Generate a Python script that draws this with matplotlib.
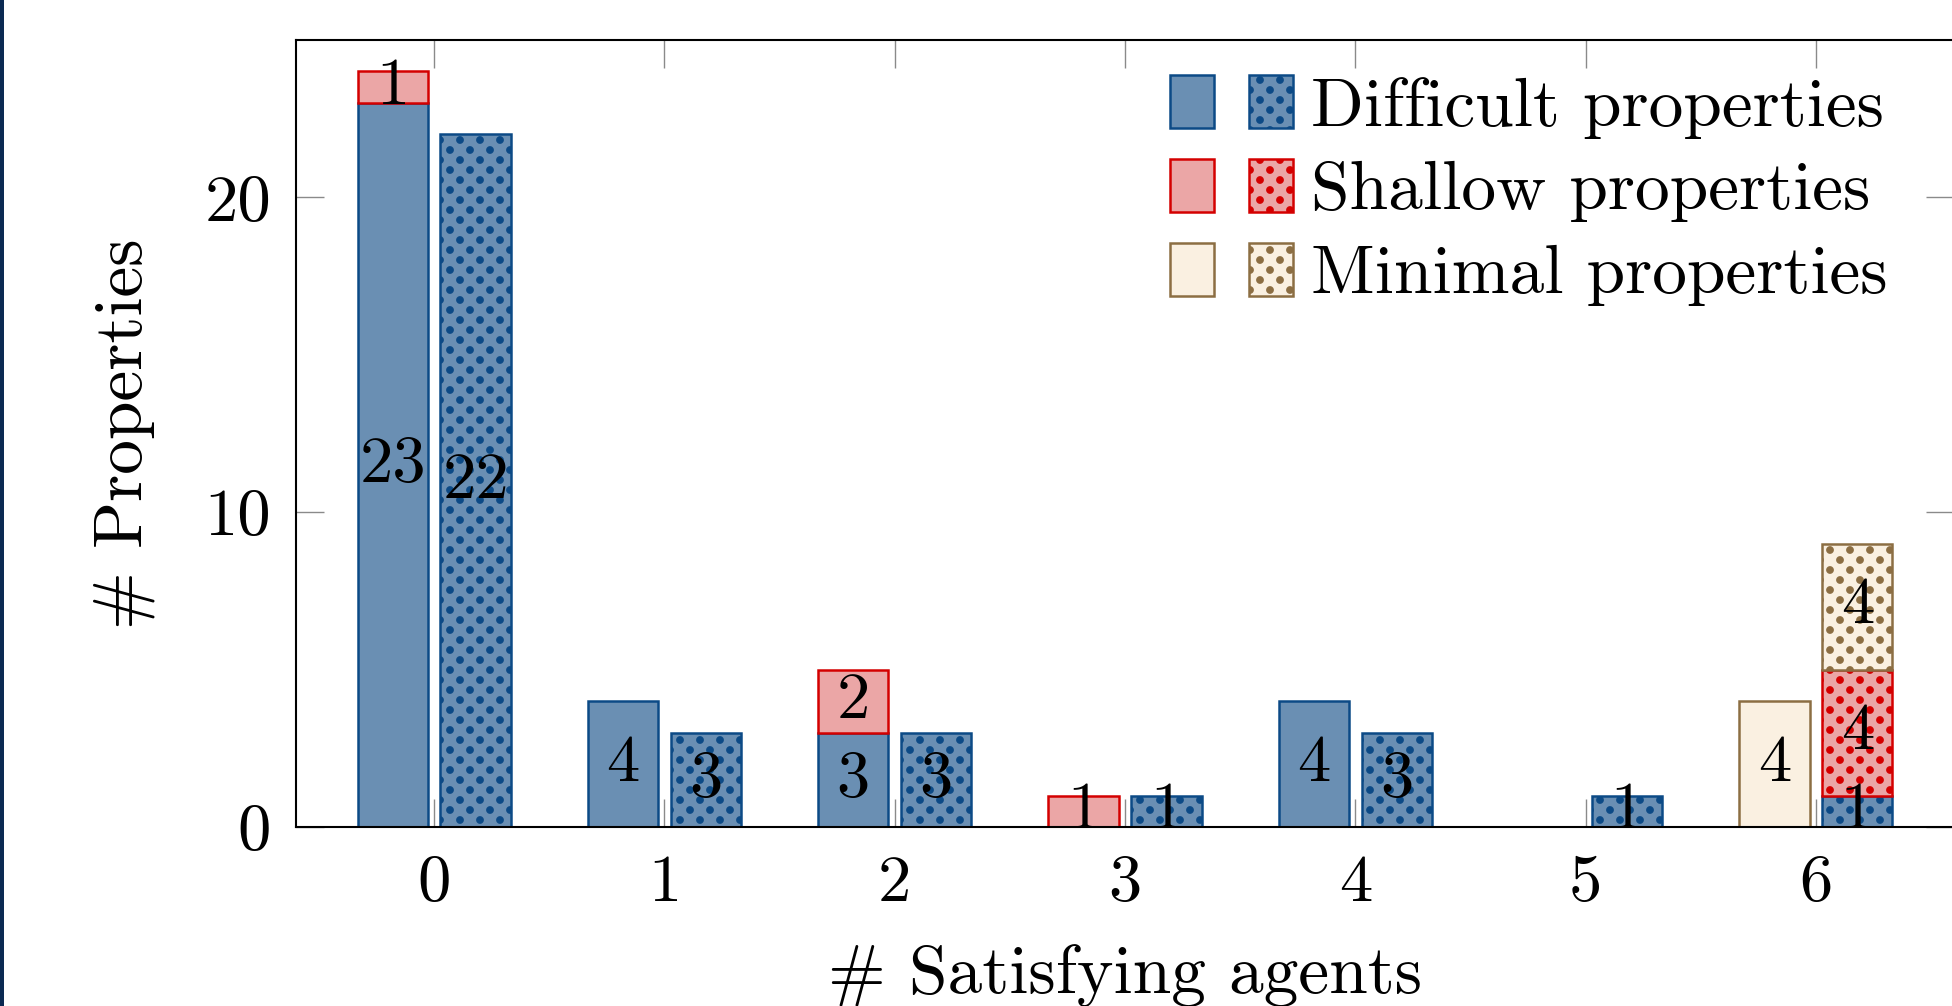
import numpy as np
import matplotlib
matplotlib.use("Agg")
import matplotlib.pyplot as plt
import matplotlib.hatch as mhatch
from matplotlib.path import Path
from matplotlib.patches import Patch, Rectangle
from matplotlib.legend_handler import HandlerTuple

# ---------------- data ----------------
agents = [0, 1, 2, 3, 4, 5, 6]
xtick_labels = ["0", "1", "2", "3", "4", "5", "6"]
ytick_values = [0, 10, 20]
ytick_labels = ["0", "10", "20"]

difficult_solid = [23, 4, 3, 0, 4, 0, 0]
shallow_solid = [1, 0, 2, 1, 0, 0, 0]
minimal_solid = [0, 0, 0, 0, 0, 0, 4]

difficult_dotted = [22, 3, 3, 1, 3, 1, 1]
shallow_dotted = [0, 0, 0, 0, 0, 0, 4]
minimal_dotted = [0, 0, 0, 0, 0, 0, 4]

legend_labels = ["Difficult properties", "Shallow properties", "Minimal properties"]
x_label = "# Satisfying agents"
y_label = "# Properties"

# ---------------- styles ----------------
BLUE = ("#6a8fb3", "#0c4a86")
RED = ("#eba6a6", "#d40000")
BROWN = ("#faf0e1", "#8c6e43")
FS = 48      # numbers
FS_TXT = 50  # words
LW = 1.8
W = 0.305
SHIFT = 0.18


# dotted pattern (staggered dot lattice, like the TikZ "dots" pattern)
class _DotLattice(mhatch.HatchPatternBase):
    def __init__(self, hatch, density):
        n = hatch.count(".")
        self.centers = []
        if n:
            cols = 5 * n
            rows = 2 * cols
            for r in range(rows + 1):
                y = r / rows
                if r % 2 == 0:
                    xs = np.arange(cols + 1) / cols
                else:
                    xs = (np.arange(cols) + 0.5) / cols
                for x in xs:
                    self.centers.append((x, y))
        circ = Path.unit_circle()
        self.sv = circ.vertices
        self.sc = circ.codes
        self.num_vertices = len(self.centers) * len(self.sv)

    def set_vertices_and_codes(self, vertices, codes):
        rad = 0.035
        np.concatenate([self.sv * rad + np.asarray(c) for c in self.centers], out=vertices)
        np.concatenate([self.sc] * len(self.centers), out=codes)


mhatch._hatch_types = [(_DotLattice if t is mhatch.SmallFilledCircles else t)
                       for t in mhatch._hatch_types]

plt.rcParams["font.family"] = ["cmr10", "DejaVu Serif"]
plt.rcParams["mathtext.fontset"] = "cm"
plt.rcParams["axes.formatter.use_mathtext"] = True
plt.rcParams["hatch.linewidth"] = 0.5

DPI = 100
fig = plt.figure(figsize=(1952 / DPI, 1006 / DPI), dpi=DPI)
L, R, B, T = 296, 1954, 827, 40
ax = fig.add_axes([L / 1952, (1006 - B) / 1006, (R - L) / 1952, (B - T) / 1006])

x = np.asarray(agents, float)


def stacked(xpos, series, colors, hatch):
    bottom = np.zeros(len(xpos))
    for vals, (fc, ec) in zip(series, colors):
        vals = np.asarray(vals, float)
        m = vals > 0
        ax.bar(xpos[m], vals[m], width=W, bottom=bottom[m], facecolor=fc,
               edgecolor=ec, linewidth=LW, hatch=hatch, zorder=2)
        for xx, b, v in zip(xpos[m], bottom[m], vals[m]):
            ax.text(xx, b + v / 2, f"{int(v)}", ha="center", va="center",
                    fontsize=FS, zorder=6)
        bottom += vals


stacked(x - SHIFT, [difficult_solid, shallow_solid, minimal_solid],
        [BLUE, RED, BROWN], None)
stacked(x + SHIFT, [difficult_dotted, shallow_dotted, minimal_dotted],
        [BLUE, RED, BROWN], ".")

ax.set_xlim(-0.6, 6.6)
ax.set_ylim(0, 25)
ax.set_xticks(agents, labels=xtick_labels)
ax.set_yticks(ytick_values, labels=ytick_labels)
ax.tick_params(axis="both", direction="in", length=20, width=1.0,
               color="#8a8a8a", top=True, right=True, labelsize=FS)
ax.tick_params(axis="x", pad=20)
ax.tick_params(axis="y", pad=18)
for s in ax.spines.values():
    s.set_linewidth(1.5)
    s.set_color("black")
    s.set_zorder(4)

ax.set_xlabel(x_label, fontsize=FS_TXT)
ax.set_ylabel(y_label, fontsize=FS_TXT)
ax.xaxis.set_label_coords(0.5, (B - 944) / (B - T))
ax.yaxis.set_label_coords((155 - L) / (R - L), 0.5)

handles = []
for fc, ec in (BLUE, RED, BROWN):
    p1 = Patch(facecolor=fc, edgecolor=ec, linewidth=LW)
    p2 = Patch(facecolor=fc, edgecolor=ec, linewidth=LW, hatch=".")
    handles.append((p1, p2))
ax.legend(handles, legend_labels, handler_map={tuple: HandlerTuple(ndivide=None, pad=0.5)},
          loc="upper right", bbox_to_anchor=(0.9765, 0.991), frameon=False,
          fontsize=FS_TXT, handlelength=1.76, handleheight=0.8, handletextpad=0.26,
          labelspacing=0.29, borderaxespad=0.0, borderpad=0.4)

fig.patches.append(Rectangle((0, 0), 4 / 1952, 1, transform=fig.transFigure,
                             facecolor="#0b2a52", edgecolor="none", zorder=10))

fig.savefig("out.png", dpi=DPI)
